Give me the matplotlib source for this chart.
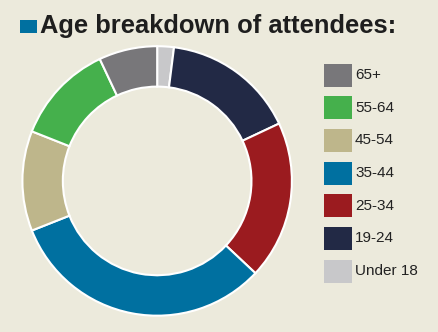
import matplotlib
matplotlib.use("Agg")
import matplotlib.pyplot as plt
from matplotlib.patches import Rectangle

# age groups, clockwise from 12 o'clock
labels = ["Under 18", "19-24", "25-34", "35-44", "45-54", "55-64", "65+"]
shares = [2, 16, 19, 32, 12, 12, 7]
colors = ["#C8C8CA", "#222945", "#9B1B1F", "#0070A0", "#BEB68B", "#45B04C", "#78777A"]

bg = "#ECEADC"
W, H = 439, 332
plt.rcParams["font.family"] = ["Liberation Sans", "DejaVu Sans"]

fig = plt.figure(figsize=(W / 100, H / 100), dpi=100, facecolor=bg)

ax = fig.add_axes([0.048, 0.045, 0.62, 0.82])
ax.set_facecolor(bg)
ax.pie(shares, colors=colors, startangle=90, counterclock=False,
       radius=1.0, wedgeprops=dict(width=0.3, edgecolor="white", linewidth=1.5))
ax.set_xlim(-1.01, 1.01)
ax.set_ylim(-1.01, 1.01)
ax.set_aspect("equal")
ax.axis("off")

# legend drawn by hand, top to bottom is reverse of the ring order
for i, (lab, col) in enumerate(zip(labels[::-1], colors[::-1])):
    yc = 75 + 32.7 * i
    fig.patches.append(Rectangle((324 / W, 1 - (yc + 11.5) / H), 28 / W, 23 / H,
                                 transform=fig.transFigure, facecolor=col,
                                 edgecolor="none"))
    fig.text(355 / W, 1 - yc / H, lab, fontsize=11, color="#222222",
             va="center", ha="left")

# title with the little blue square
fig.patches.append(Rectangle((20 / W, 1 - 33 / H), 17 / W, 13 / H,
                             transform=fig.transFigure, facecolor="#0070A0",
                             edgecolor="none"))
fig.text(40 / W, 1 - 26 / H, "Age breakdown of attendees:", fontsize=18.4,
         fontweight="bold", color="#1E1E1E", va="center", ha="left")

fig.savefig("out.png", dpi=100, facecolor=bg)
